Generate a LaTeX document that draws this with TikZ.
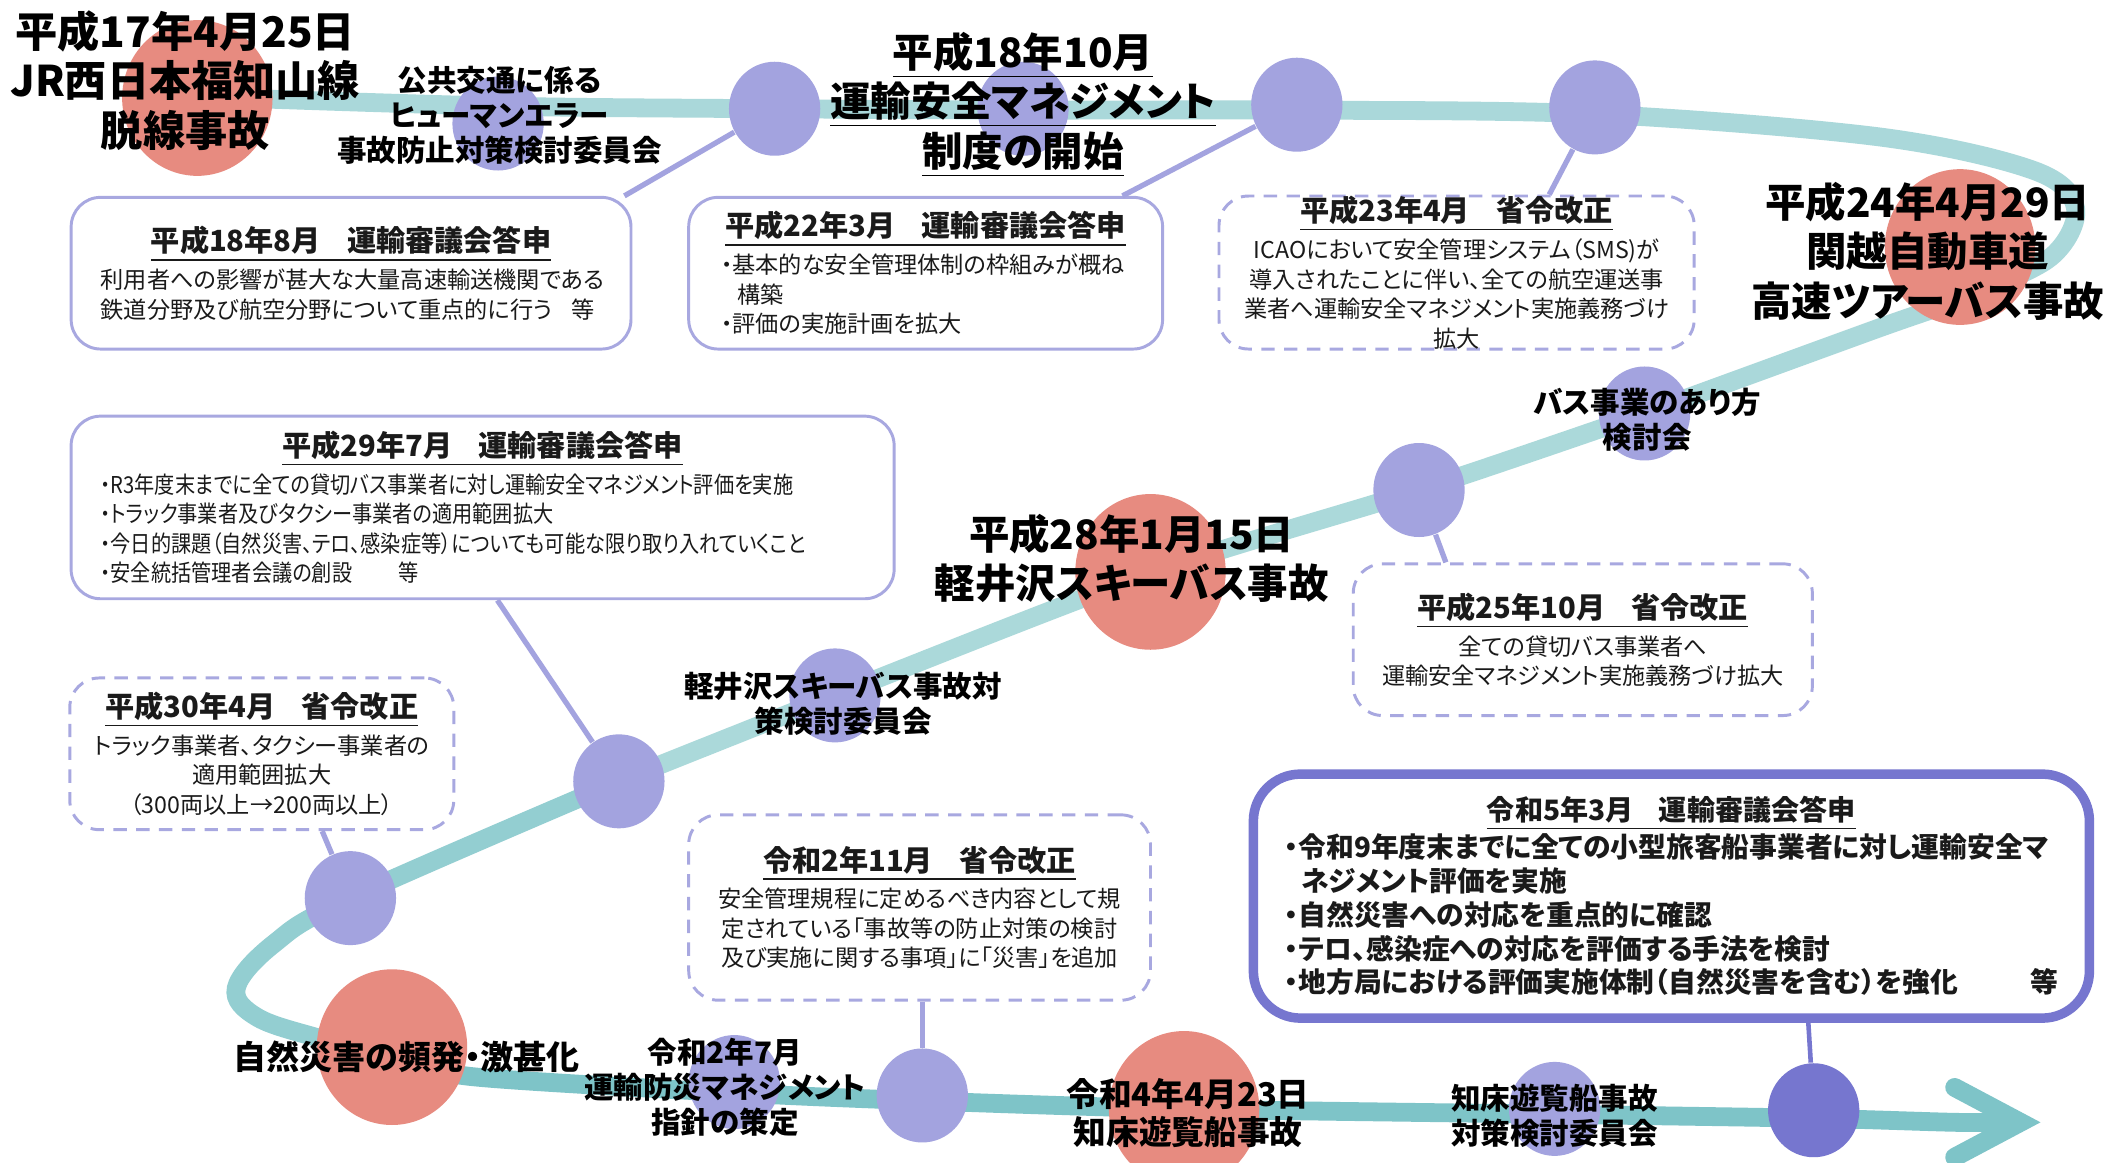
\documentclass[tikz,border=0pt]{standalone}
\usepackage{fontspec}
\setmainfont{Noto Sans CJK JP}[RawFeature=+palt]
\newfontfamily\condjp{Noto Sans CJK JP}[RawFeature=+palt, FakeStretch=0.87]
\usetikzlibrary{shapes.geometric,calc}
\definecolor{redcol}{HTML}{E78B80}
\definecolor{purcol}{HTML}{A3A3DF}
\definecolor{dpur}{HTML}{7676CF}
\definecolor{boxcol}{HTML}{A8A8E0}
\definecolor{bandA}{HTML}{AAD8DA}
\definecolor{bandB}{HTML}{ABD9DA}
\definecolor{bandC}{HTML}{93CED1}
\definecolor{bandD}{HTML}{7EC4C8}
\definecolor{txt}{HTML}{1A1A1A}
\tikzset{
  band/.style={line width=5.35pt},
  redc/.style={ellipse, fill=redcol, minimum width=15.04mm, minimum height=15.57mm, inner sep=0pt},
  purc/.style={ellipse, fill=purcol, minimum width=9.13mm, minimum height=9.4mm, inner sep=0pt},
  dpurc/.style={ellipse, fill=dpur, minimum width=9.13mm, minimum height=9.4mm, inner sep=0pt},
  conn/.style={draw=purcol, line width=1.5pt},
  boxs/.style={draw=boxcol, fill=white, line width=0.84pt, rounded corners=2.95mm, inner sep=0pt, text=txt,
     font=\fontsize{6.6}{8.4}\selectfont},
  boxd/.style={boxs, dash pattern=on 1.34mm off 0.94mm},
  big/.style={align=center, inner sep=0pt, font=\bfseries\fontsize{12}{14.1}\selectfont},
  mid/.style={align=center, inner sep=0pt, font=\bfseries\fontsize{8.4}{10}\selectfont},
}
\newcommand\bttl[1]{{\bfseries\fontsize{8.3}{9.2}\selectfont\underline{#1}}}
\begin{document}
\begin{tikzpicture}[x=0.13425mm,y=-0.13425mm]
\useasboundingbox (0,0) rectangle (1568,866);
\fill[white] (0,0) rectangle (1568,866);
% band
\draw[band, draw=bandA] plot[smooth, tension=0.55] coordinates {(147,72) (370,79) (577,81) (762,82) (966,82) (1188,85) (1400,102) (1515,127) (1546,155) (1527,192) (1462,222) (1395,246) (1225,308)};
\draw[band, draw=bandB] plot[smooth, tension=0.5] coordinates {(1225,308) (1057,365) (857,427) (622,518) (461,582)};
\draw[band, draw=bandC] plot[smooth, tension=0.6] coordinates {(461,582) (261,669) (204,703) (176,736) (192,758) (240,774) (292,788)};
\draw[band, draw=bandD] plot[smooth, tension=0.5] coordinates {(292,788) (352,802) (547,814) (687,820) (882,826) (1158,830) (1351,833) (1456,836) (1500,836)};
\draw[band, draw=bandD, line cap=round, line join=miter] (1456,810) -- (1505,836) -- (1456,862);
% circles
\node[redc] (r1) at (147,73) {};
\node[purc] (p2) at (371,92) {};
\node[purc] (p3) at (577,81) {};
\node[purc] (p4) at (762,81) {};
\node[purc] (p5) at (966,78) {};
\node[purc] (p6) at (1188,80) {};
\node[redc] (r7) at (1460,184) {};
\node[purc] (p8) at (1225,308) {};
\node[purc] (p9) at (1057,365) {};
\node[redc] (r10) at (857,426) {};
\node[purc] (p11) at (622,518) {};
\node[purc] (p12) at (461,582) {};
\node[purc] (p13) at (261,669) {};
\node[redc] (r14) at (292,780) {};
\node[purc] (p15) at (547,806) {};
\node[purc] (p16) at (687,816) {};
\node[redc] (r17) at (882,826) {};
\node[purc] (p18) at (1158,826) {};
\node[dpurc] (p19) at (1351,827) {};
% boxes
\node[boxs, minimum width=55.98mm, minimum height=15.17mm, text width=50.08mm, align=left] (b1) at (261.5,203.5)
  {\makebox[\linewidth][c]{\bttl{平成18年8月\hspace{0.9em}運輸審議会答申}}\\[1pt]
   利用者への影響が甚大な大量高速輸送機関である\\
   鉄道分野及び航空分野について重点的に行う\hspace{0.8em}等};
\node[boxs, minimum width=47.39mm, minimum height=15.17mm, text width=40.95mm, align=left] (b2) at (689.5,203.5)
  {\makebox[\linewidth][c]{\bttl{平成22年3月\hspace{0.9em}運輸審議会答申}}\\[1pt]
   ・基本的な安全管理体制の枠組みが概ね\\
   \hspace*{0.7em}構築\\
   ・評価の実施計画を拡大};
\node[boxd, minimum width=47.52mm, minimum height=15.3mm, text width=44.3mm, align=center] (b3) at (1085,203)
  {\bttl{平成23年4月\hspace{0.9em}省令改正}\\[1pt]
   ICAOにおいて安全管理システム（SMS)が\\
   導入されたことに伴い、全ての航空運送事\\
   業者へ運輸安全マネジメント実施義務づけ\\
   拡大};
\node[boxs, minimum width=82.3mm, minimum height=18.26mm, text width=76.39mm, align=left] (b4) at (359.5,378)
  {\makebox[\linewidth][c]{\bttl{平成29年7月\hspace{0.9em}運輸審議会答申}}\\[1pt]
   {\condjp ・R3年度末までに全ての貸切バス事業者に対し運輸安全マネジメント評価を実施}\\
   {\condjp ・トラック事業者及びタクシー事業者の適用範囲拡大}\\
   {\condjp ・今日的課題（自然災害、テロ、感染症等）についても可能な限り取り入れていくこと}\\
   {\condjp ・安全統括管理者会議の創設\hspace{2em}等}};
\node[boxd, minimum width=38.4mm, minimum height=15.17mm, text width=36.2mm, align=center] (b5) at (195,561.5)
  {\bttl{平成30年4月\hspace{0.9em}省令改正}\\[1pt]
   トラック事業者、タクシー事業者の\\
   適用範囲拡大\\
   （300両以上→200両以上）};
\node[boxd, minimum width=45.91mm, minimum height=15.17mm, text width=43mm, align=center] (b6) at (1179,476.5)
  {\bttl{平成25年10月\hspace{0.9em}省令改正}\\[1pt]
   全ての貸切バス事業者へ\\
   運輸安全マネジメント実施義務づけ拡大};
\node[boxd, minimum width=46.18mm, minimum height=18.53mm, text width=43mm, align=center] (b7) at (685,676)
  {\bttl{令和2年11月\hspace{0.9em}省令改正}\\[1pt]
   安全管理規程に定めるべき内容として規\\
   定されている「事故等の防止対策の検討\\
   及び実施に関する事項」に「災害」を追加};
\node[boxs, draw=dpur, line width=2.7pt, rounded corners=4.7mm, minimum width=83.6mm, minimum height=24.4mm,
      text width=77.33mm, align=left, font=\bfseries\fontsize{7.9}{9.6}\selectfont] (b8) at (1245,667.5)
  {\makebox[\linewidth][c]{{\fontsize{8}{9}\selectfont\underline{令和5年3月\hspace{0.9em}運輸審議会答申}}}\\[1pt]
   ・令和9年度末までに全ての小型旅客船事業者に対し運輸安全マ\\
   \hspace*{0.6em}ネジメント評価を実施\\
   ・自然災害への対応を重点的に確認\\
   ・テロ、感染症への対応を評価する手法を検討\\
   ・地方局における評価実施体制（自然災害を含む）を強化\hskip 0pt plus 1fill\relax 等};
% connectors
\draw[conn] ($(b1.north east)+(-6,0)$) -- (p3);
\draw[conn] ($(b2.north east)+(-31,0)$) -- (p5);
\draw[conn] ($(b3.north)+(69,0)$) -- (p6);
\draw[conn] ($(b4.south)+(11,0)$) -- (p12);
\draw[conn] ($(b5.south)+(45,0)$) -- (p13);
\draw[conn] ($(b6.north)+(-102,0)$) -- (p9);
\draw[conn] ($(b7.south)+(2,0)$) -- (p16);
\draw[conn, draw=dpur, line width=1.3pt] ($(b8.south)+(102,0)$) -- (p19);
% labels
\node[big] (l1) at (138,60) {平成17年4月25日\\JR西日本福知山線\\脱線事故};
\node[mid] (l2) at (372,86) {公共交通に係る\\ヒューマンエラー\\事故防止対策検討委員会};
\node[big, font=\bfseries\fontsize{11.5}{14.1}\selectfont] (l3) at (762,78) {\underline{平成18年10月}\\\underline{運輸安全マネジメント}\\\underline{制度の開始}};
\node[big, font=\bfseries\fontsize{11.5}{14.1}\selectfont] (l4) at (1436,187) {平成24年4月29日\\関越自動車道\\高速ツアーバス事故};
\node[mid] (l5) at (1227,313) {バス事業のあり方\\検討会};
\node[big, font=\bfseries\fontsize{11.5}{14.1}\selectfont] (l6) at (843,416) {平成28年1月15日\\軽井沢スキーバス事故};
\node[mid] (l7) at (628,524) {軽井沢スキーバス事故対\\策検討委員会};
\node[big, font=\bfseries\fontsize{9.4}{11}\selectfont] (l8) at (303,787) {自然災害の頻発・激甚化};
\node[mid] (l9) at (540,810) {令和2年7月\\運輸防災マネジメント\\指針の策定};
\node[big, font=\bfseries\fontsize{9.3}{10.7}\selectfont] (l10) at (885,829) {令和4年4月23日\\知床遊覧船事故};
\node[mid] (l11) at (1158,831) {知床遊覧船事故\\対策検討委員会};
\end{tikzpicture}
\end{document}
